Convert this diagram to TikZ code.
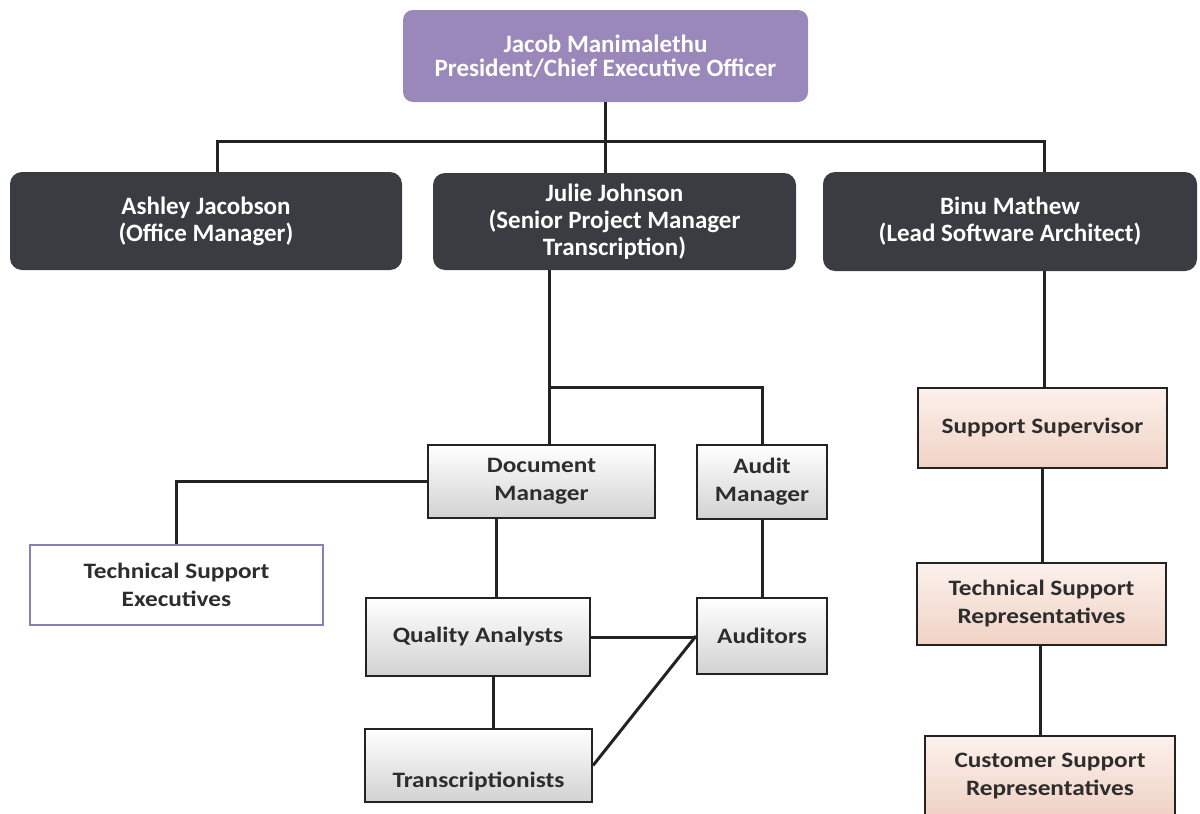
\documentclass[tikz,border=0pt]{standalone}
\usepackage{fontspec}
\setmainfont{Carlito}
\newfontfamily\lowfont{Carlito}[FakeStretch=1.15]
\definecolor{purp}{RGB}{154,136,186}
\definecolor{darkfill}{RGB}{58,60,65}
\definecolor{lineC}{RGB}{35,35,35}
\definecolor{tseB}{RGB}{140,125,185}
\definecolor{grayB}{RGB}{210,210,210}
\definecolor{peachT}{RGB}{252,241,236}
\definecolor{peachB}{RGB}{240,210,196}
\definecolor{textC}{RGB}{45,45,45}
\tikzset{
  topbox/.style={rounded corners=10pt, fill=purp, text=white, align=center, inner sep=0pt,
    font=\bfseries\fontsize{25}{24}\selectfont},
  darkbox/.style={rounded corners=12pt, fill=darkfill, text=white, align=center, inner sep=0pt,
    font=\bfseries\fontsize{25}{27}\selectfont},
  graybox/.style={draw=lineC, line width=2pt, top color=white, bottom color=grayB, text=textC,
    align=center, inner sep=0pt, font=\lowfont\bfseries\fontsize{22}{28}\selectfont},
  peachbox/.style={draw=lineC, line width=2pt, top color=peachT, bottom color=peachB, text=textC,
    align=center, inner sep=0pt, font=\lowfont\bfseries\fontsize{22}{28}\selectfont},
  tsebox/.style={draw=tseB, line width=2pt, fill=white, text=textC,
    align=center, inner sep=0pt, font=\lowfont\bfseries\fontsize{22}{28}\selectfont},
  conn/.style={draw=lineC, line width=3pt}
}
\begin{document}
\begin{tikzpicture}[x=1pt,y=-1pt]
\useasboundingbox (0,0) rectangle (1200,814);
% nodes
\node[topbox, minimum width=405pt, minimum height=92pt] (top) at (605.5,56) {Jacob Manimalethu\\President/Chief Executive Officer};
\node[darkbox, minimum width=392pt, minimum height=98pt] (ashley) at (206,221) {Ashley Jacobson\\(Office Manager)};
\node[darkbox, minimum width=363pt, minimum height=97pt] (julie) at (614.5,221.5) {Julie Johnson\\(Senior Project Manager\\Transcription)};
\node[darkbox, minimum width=374pt, minimum height=99pt] (binu) at (1010,221.5) {Binu Mathew\\(Lead Software Architect)};
\node[graybox, minimum width=227pt, minimum height=73pt] (dm) at (541.5,481.5) {Document\\Manager};
\node[graybox, minimum width=130pt, minimum height=74pt] (am) at (762,482) {Audit\\Manager};
\node[tsebox, minimum width=293pt, minimum height=80pt] (tse) at (176.5,585) {Technical Support\\Executives};
\node[graybox, minimum width=224pt, minimum height=78pt] (qa) at (478,637) {Quality Analysts};
\node[graybox, minimum width=130pt, minimum height=76pt] (aud) at (762,636) {Auditors};
\node[graybox, minimum width=227pt, minimum height=73pt, inner ysep=4pt, text height=54pt, text depth=11pt] (trans) at (478.5,765.5) {Transcriptionists};
\node[peachbox, minimum width=249pt, minimum height=80pt] (ss) at (1042.5,428) {Support Supervisor};
\node[peachbox, minimum width=249pt, minimum height=82pt] (tsr) at (1041.5,604) {Technical Support\\Representatives};
\node[peachbox, minimum width=250pt, minimum height=80pt] (csr) at (1050,776) {Customer Support\\Representatives};
% helper coordinates
\coordinate (hl) at (217,141);
\coordinate (hr) at (1044,141);
\coordinate (jb) at (549,387);
\coordinate (amc) at (762,387);
\coordinate (dq) at (496,0);
\coordinate (qt) at (493,0);
\coordinate (bs) at (1044,0);
\coordinate (st) at (1042,0);
\coordinate (tc) at (1040,0);
% connectors
\draw[conn] (top.south) -- (top.south |- julie.north);
\draw[conn] (ashley.north -| hl) -- (hl) -- (hr) -- (binu.north -| hr);
\draw[conn] (julie.south -| jb) -- (jb) -- (dm.north -| jb);
\draw[conn] (jb) -- (amc) -- (am.north);
\draw[conn] (dm.west) -- (dm.west -| tse.north) -- (tse.north);
\draw[conn] (dm.south -| dq) -- (qa.north -| dq);
\draw[conn] (qa.south -| qt) -- (trans.north -| qt);
\draw[conn] (qa.east) -- (qa.east -| aud.west);
\draw[conn] (trans.east) -- (aud.west);
\draw[conn] (am.south) -- (aud.north);
\draw[conn] (binu.south -| bs) -- (ss.north -| bs);
\draw[conn] (ss.south -| st) -- (tsr.north -| st);
\draw[conn] (tsr.south -| tc) -- (csr.north -| tc);
\end{tikzpicture}
\end{document}
